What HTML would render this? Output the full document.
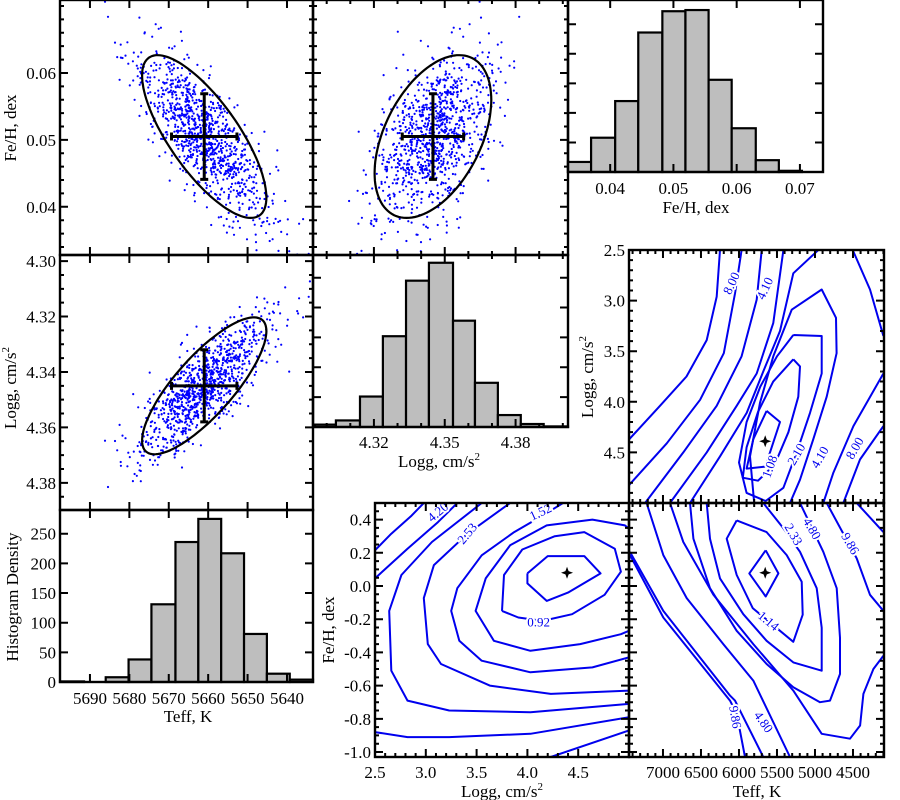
<!DOCTYPE html>
<html><head><meta charset="utf-8"><title>Corner plot</title>
<style>
body{margin:0;background:#fff;}
svg{display:block;font-family:"Liberation Serif","DejaVu Serif",serif;}
text{font-family:"Liberation Serif","DejaVu Serif",serif;}
</style></head>
<body>
<svg id="fig" width="900" height="800" viewBox="0 0 900 800"></svg>
<script>
// ---------- data ----------
const teffBinEdges=[5697.6,5691.5,5686.0,5680.2,5674.4,5668.3,5662.5,5656.7,5650.9,5645.1,5639.3,5633.4];
const teffCounts=[1,0,8,38,131,236,275,217,81,14,4];
const loggBinEdges=[4.2950,4.3039,4.3141,4.3238,4.3336,4.3433,4.3535,4.3628,4.3725,4.3822,4.3919,4.4022];
const loggCounts=[4,11,51,152,245,275,178,74,20,5,1];
const fehBinEdges=[0.03333,0.03698,0.04079,0.04444,0.04825,0.05190,0.05556,0.05921,0.06302,0.06667,0.07032,0.07365];
const fehCounts=[17,58,120,236,272,274,156,74,20,2,0];

const teffTicks=[5690,5680,5670,5660,5650,5640];
const fehScatterTicks=[0.04,0.05,0.06];
const fehHistTicks=[0.04,0.05,0.06,0.07];
const loggScatterTicks=[4.30,4.32,4.34,4.36,4.38];
const loggHistTicks=[4.32,4.35,4.38];
const countTicks=[0,50,100,150,200,250];
const gridLoggTicks=[2.5,3.0,3.5,4.0,4.5];
const gridTeffTicks=[7000,6500,6000,5500,5000,4500];
const gridFehTicks=[0.4,0.2,0.0,-0.2,-0.4,-0.6,-0.8,-1.0];

const meanTeff=5661, meanFeh=0.0505, meanLogg=4.345;
const sdTeff=8.3, sdFeh=0.0064, sdLogg=0.013;
const rhoTeffFeh=0.75, rhoTeffLogg=0.8, rhoFehLogg=0.45;
const nSamples=1000;

const bestTeff=5655, bestLogg=4.39, bestFeh=0.08;

const teffLoggContours=[
 [[7443,4.37],[7039,4.04],[6690,3.75],[6425,3.39],[6293,2.96],[6250,2.5]],
 [[7443,4.82],[6950,4.41],[6512,3.98],[6200,3.52],[6052,2.93],[5965,2.5]],
 [[7235,5.0],[6732,4.50],[6293,4.04],[5965,3.55],[5767,2.99],[5701,2.5]],
 [[6907,5.0],[6425,4.5],[6030,4.04],[5767,3.72],[5548,3.22],[5416,2.5]],
 [[6644,5.0],[6250,4.54],[5899,4.11],[5680,3.70],[5460,3.30],[5285,2.73],[4956,2.5]],
 [[5800,5.0],[5855,4.54],[5723,4.01],[5548,3.55],[5307,3.09],[4912,2.89],[4723,3.17],[4715,3.52],[4846,3.95],[5022,4.37],[5197,4.77],[5329,5.0]],
 [[5285,3.34],[4912,3.35],[4912,3.72],[5065,4.11],[5241,4.50],[5416,4.85],[5650,4.98],[5900,4.90],[6000,4.60],[5900,4.20],[5720,3.85],[5500,3.55],[5285,3.34]],
 [[5285,3.58],[5197,3.65],[5219,3.95],[5350,4.30],[5530,4.62],[5750,4.78],[5950,4.75],[5900,4.45],[5750,4.10],[5550,3.80],[5285,3.58]],
 [[5636,4.09],[5460,4.20],[5592,4.50],[5657,4.64],[5900,4.66],[5811,4.37],[5636,4.09]],
 [[4504,2.5],[4276,2.89],[4100,3.35]],
 [[4100,3.72],[4495,4.24],[4758,4.70],[4890,5.0]],
 [[4100,4.24],[4408,4.57],[4627,5.0]]
];
const teffLoggLabels=[["8.00",6096,2.83,-65],["4.10",5657,2.88,-65],["1.08",5592,4.64,-70],["2.10",5241,4.52,-60],["4.10",4934,4.55,-60],["8.00",4474,4.46,-60]];

const loggFehContours=[
 [[4.0,0.076],[4.20,0.18],[4.56,0.18],[4.72,0.076],[4.40,-0.04],[4.19,-0.09],[4.0,0.016],[4.0,0.076]],
 [[3.75,-0.15],[3.77,0.066],[3.95,0.22],[4.27,0.30],[4.56,0.325],[4.86,0.225],[4.92,0.086],[4.76,-0.053],[4.44,-0.17],[4.15,-0.21],[3.91,-0.19],[3.75,-0.15]],
 [[5.0,0.345],[4.96,0.365],[4.64,0.40],[4.19,0.365],[3.83,0.245],[3.59,0.046],[3.49,-0.15],[3.67,-0.33],[4.03,-0.39],[4.52,-0.35],[4.92,-0.29],[5.0,-0.27]],
 [[4.35,0.5],[4.15,0.424],[3.87,0.325],[3.55,0.185],[3.31,-0.013],[3.25,-0.15],[3.33,-0.33],[3.55,-0.45],[4.03,-0.52],[4.64,-0.49],[5.0,-0.43]],
 [[3.83,0.5],[3.41,0.315],[3.08,0.126],[2.98,-0.073],[3.02,-0.35],[3.15,-0.47],[3.63,-0.60],[4.23,-0.65],[5.0,-0.63]],
 [[3.55,0.5],[3.06,0.265],[2.76,0.066],[2.64,-0.15],[2.66,-0.51],[2.82,-0.69],[3.23,-0.75],[4.03,-0.76],[5.0,-0.71]],
 [[2.5,0.046],[2.82,0.225],[3.12,0.385],[3.31,0.5]],
 [[2.5,0.215],[2.66,0.315],[2.86,0.424],[2.98,0.5]],
 [[2.5,-0.88],[2.82,-0.91],[3.23,-0.91],[4.03,-0.89],[5.0,-0.79]],
 [[4.23,-1.03],[5.0,-0.87]]
];
const loggFehLabels=[["4.20",3.12,0.444,-40],["2.53",3.41,0.315,-50],["1.52",4.13,0.444,-25],["0.92",4.11,-0.22,0]];

const teffFehContours=[
 [[5649,0.215],[5482,0.076],[5649,-0.063],[5864,0.076],[5649,0.215]],
 [[6030,0.395],[5636,0.325],[5372,0.186],[5175,0.026],[5162,-0.173],[5285,-0.336],[5460,-0.27],[5819,-0.133],[6030,0.066],[6162,0.285],[6030,0.395]],
 [[5680,0.5],[5420,0.35],[5197,0.206],[4978,-0.013],[4912,-0.252],[4912,-0.51],[5285,-0.46],[5636,-0.33],[5943,-0.17],[6250,0.046],[6381,0.285],[6425,0.5]],
 [[5197,0.5],[4890,0.206],[4714,-0.013],[4671,-0.312],[4671,-0.53],[4802,-0.69],[4934,-0.70],[5285,-0.61],[5636,-0.47],[6030,-0.27],[6381,-0.013],[6600,0.285],[6644,0.5]],
 [[4846,0.5],[4451,0.166],[4276,-0.053],[4100,-0.15]],
 [[4451,0.5],[4100,0.325]],
 [[6908,0.5],[6732,0.265],[6337,-0.053],[5811,-0.35],[5285,-0.63],[4912,-0.89],[4539,-0.92],[4407,-0.84],[4363,-0.65],[4232,-0.50],[4100,-0.42]],
 [[7215,0.5],[6996,0.186],[6688,-0.073],[6206,-0.35],[5811,-0.57],[5329,-1.03]],
 [[7434,0.205],[6996,-0.15],[6118,-0.66],[6052,-0.69],[5680,-1.03]],
 [[7434,0.186],[6996,-0.19],[6118,-0.69],[6030,-0.77],[5921,-1.03]]
];
const teffFehLabels=[["2.33",5285,0.31,60],["4.80",5043,0.345,60],["9.86",4539,0.255,60],["1.14",5614,-0.212,40],["9.86",6052,-0.79,80],["4.80",5680,-0.82,55]];

// ---------- helpers ----------
const NS="http://www.w3.org/2000/svg";
const FONT='"Liberation Serif", "DejaVu Serif", serif';
const FS=17;
const svg=document.getElementById('fig');
function mk(tag,attrs,parent){const e=document.createElementNS(NS,tag);for(const k in attrs)e.setAttribute(k,attrs[k]);(parent||svg).appendChild(e);return e;}
function lin(d0,d1,r0,r1){return v=>r0+(v-d0)/(d1-d0)*(r1-r0);}
function panel(x0,y0,x1,y1,xd,yd){return {x0,y0,x1,y1,xd,yd,sx:lin(xd[0],xd[1],x0,x1),sy:lin(yd[0],yd[1],y0,y1)};}
function range(a,b,step){const lo=Math.min(a,b),hi=Math.max(a,b);const out=[];let v=Math.ceil(lo/step-1e-9)*step;for(;v<=hi+1e-9;v+=step)out.push(v);return out;}

const P={
 A:panel(60,0,313,255,[5697.6,5633.4],[0.0709,0.0328]),
 B:panel(313,0,568,255,[4.2942,4.4022],[0.0709,0.0328]),
 C:panel(568,0,823,172,[0.03333,0.07365],[291,0]),
 D:panel(60,255,313,510,[5697.6,5633.4],[4.2978,4.3898]),
 E:panel(313,255,568,427,[4.2942,4.4022],[288,0]),
 F:panel(60,510,313,682,[5697.6,5633.4],[290,0]),
 G:panel(629,250,884,503,[7447,4092],[2.5,5.0]),
 H:panel(375,503,629,757,[2.5,5.0],[0.5,-1.03]),
 I:panel(629,503,884,757,[7447,4092],[0.5,-1.03])
};

function clipFor(p,id){
 const cp=mk('clipPath',{id:id});
 
 
 const r=mk('rect',{x:p.x0,y:p.y0,width:p.x1-p.x0,height:p.y1-p.y0},cp);
 
 
}

function frame(p,name,xMaj,xMinStep,yMaj,yMinStep){
 const g=mk('g',{});
 
 
 let d='';
 const inX=v=>{const X=p.sx(v);return X>=p.x0-0.5&&X<=p.x1+0.5;};
 const inY=v=>{const Y=p.sy(v);return Y>=p.y0-0.5&&Y<=p.y1+0.5;};
 xMaj.filter(inX).forEach(v=>{const X=p.sx(v);d+=`M${X},${p.y1}v-8M${X},${p.y0}v8`;});
 yMaj.filter(inY).forEach(v=>{const Y=p.sy(v);d+=`M${p.x0},${Y}h8M${p.x1},${Y}h-8`;});
 if(xMinStep)range(p.xd[0],p.xd[1],xMinStep).filter(inX).forEach(v=>{const X=p.sx(v);d+=`M${X},${p.y1}v-4M${X},${p.y0}v4`;});
 if(yMinStep)range(p.yd[0],p.yd[1],yMinStep).filter(inY).forEach(v=>{const Y=p.sy(v);d+=`M${p.x0},${Y}h4M${p.x1},${Y}h-4`;});
 const t=mk('path',{d:d,stroke:'#000','stroke-width':2,fill:'none'},g);
 
 
 const r=mk('rect',{x:p.x0,y:p.y0,width:p.x1-p.x0,height:p.y1-p.y0,fill:'none',stroke:'#000','stroke-width':2.4},g);
 
 
}
function xLabels(p,name,ticks,fmt,baseY){
 ticks.forEach(v=>{
  const t=mk('text',{x:p.sx(v),y:baseY,'font-size':FS,'font-family':FONT,'text-anchor':'middle',fill:'#000'});
  t.textContent=fmt(v);
  
  
 });
}
function yLabels(p,name,ticks,fmt){
 ticks.forEach(v=>{
  const t=mk('text',{x:p.x0-4,y:p.sy(v)+6,'font-size':FS,'font-family':FONT,'text-anchor':'end',fill:'#000'});
  t.textContent=fmt(v);
  
  
 });
}
function title(txt,x,y,rot,name,sup){
 const t=mk('text',{x:x,y:y,'font-size':FS,'font-family':FONT,'text-anchor':'middle',fill:'#000',transform:rot?`rotate(-90 ${x} ${y})`:''});
 
 
 t.appendChild(document.createTextNode(txt));
 if(sup){const s=mk('tspan',{dy:-7,'font-size':11},t);s.textContent=sup;
  
  }
}
function hist(p,name,edges,counts){
 const g=mk('g',{});
 
 
 counts.forEach((c,i)=>{
  const x1=p.sx(edges[i]),x2=p.sx(edges[i+1]);
  const y=p.sy(c),y0=p.sy(0);
  const r=mk('rect',{x:Math.min(x1,x2),y:y,width:Math.abs(x2-x1),height:Math.max(0,y0-y),fill:'#bebebe',stroke:'#000','stroke-width':2.2},g);
  
  
 });
}
function star(p,x,y,name){
 const X=p.sx(x),Y=p.sy(y);
 const s=mk('path',{d:`M${X},${Y-6}L${X+1.6},${Y-1.6}L${X+6},${Y}L${X+1.6},${Y+1.6}L${X},${Y+6}L${X-1.6},${Y+1.6}L${X-6},${Y}L${X-1.6},${Y-1.6}Z`,fill:'#000'});
 
 
}
function contours(p,name,lines,labels){
 clipFor(p,name+'-clip');
 const g=mk('g',{'clip-path':`url(#${name}-clip)`});
 
 
 lines.forEach(pts=>{
  const d=pts.map((q,i)=>(i?'L':'M')+p.sx(q[0]).toFixed(1)+','+p.sy(q[1]).toFixed(1)).join('');
  const l=mk('path',{d:d,fill:'none',stroke:'#0000ee','stroke-width':2,'stroke-linejoin':'round'},g);
  
  
 });
 labels.forEach(lb=>{
  const X=p.sx(lb[1]),Y=p.sy(lb[2]);
  const t=mk('text',{x:X,y:Y+4,'font-size':13,'font-family':FONT,'text-anchor':'middle',fill:'#0000ee',stroke:'#fff','stroke-width':4,'paint-order':'stroke',transform:`rotate(${lb[3]} ${X} ${Y})`},g);
  t.textContent=lb[0];
  
  
 });
}

// ---------- samples (seeded) ----------
let seed=12345;
function rnd(){seed|=0;seed=seed+0x6D2B79F5|0;let t=Math.imul(seed^seed>>>15,1|seed);t=t+Math.imul(t^t>>>7,61|t)^t;return((t^t>>>14)>>>0)/4294967296;}
function gauss(){let u=0,v=0;while(u===0)u=rnd();v=rnd();return Math.sqrt(-2*Math.log(u))*Math.cos(2*Math.PI*v);}
const l21=rhoTeffFeh,l22=Math.sqrt(1-l21*l21);
const l31=rhoTeffLogg,l32=(rhoFehLogg-l31*l21)/l22,l33=Math.sqrt(1-l31*l31-l32*l32);
const sT=[],sF=[],sL=[];
for(let i=0;i<nSamples;i++){const z1=gauss(),z2=gauss(),z3=gauss();
 sT.push(meanTeff+sdTeff*z1);sF.push(meanFeh+sdFeh*(l21*z1+l22*z2));sL.push(meanLogg+sdLogg*(l31*z1+l32*z2+l33*z3));}

function scatter(p,name,xs,ys,mx,my,sx,sy,rho){
 clipFor(p,name+'-clip');
 const g=mk('g',{'clip-path':`url(#${name}-clip)`});
 
 
 let d='';
 for(let i=0;i<xs.length;i++){const X=p.sx(xs[i]),Y=p.sy(ys[i]);d+=`M${X.toFixed(1)},${Y.toFixed(1)}h0.01`;}
 const pts=mk('path',{d:d,stroke:'#0000ff','stroke-width':2.2,'stroke-linecap':'round',fill:'none'},g);
 
 
 const k=1.9;let e='';
 for(let j=0;j<=120;j++){const t=j/120*2*Math.PI;
  const vx=mx+k*sx*Math.cos(t),vy=my+k*sy*(rho*Math.cos(t)+Math.sqrt(1-rho*rho)*Math.sin(t));
  e+=(j?'L':'M')+p.sx(vx).toFixed(1)+','+p.sy(vy).toFixed(1);}
 const el=mk('path',{d:e,fill:'none',stroke:'#000','stroke-width':2.2},g);
 
 
 const X=p.sx(mx),Y=p.sy(my),xa=p.sx(mx-sx),xb=p.sx(mx+sx),ya=p.sy(my-sy),yb=p.sy(my+sy);
 const cr=mk('path',{d:`M${xa},${Y}H${xb}M${X},${ya}V${yb}M${xa},${Y-4}v8M${xb},${Y-4}v8M${X-4},${ya}h8M${X-4},${yb}h8`,stroke:'#000','stroke-width':3,fill:'none'},g);
 
 
}

// ---------- draw ----------
const f2=v=>v.toFixed(2), f1=v=>v.toFixed(1), f0=v=>v.toFixed(0);

scatter(P.A,'teff-feh-scatter',sT,sF,meanTeff,meanFeh,sdTeff,sdFeh,rhoTeffFeh);
frame(P.A,'teff-feh-scatter',teffTicks,0,fehScatterTicks,0.002);
yLabels(P.A,'teff-feh-scatter',fehScatterTicks,f2);
title('Fe/H, dex',16,128,true,'feh-y-axis-title');

scatter(P.B,'logg-feh-scatter',sL,sF,meanLogg,meanFeh,sdLogg,sdFeh,rhoFehLogg);
frame(P.B,'logg-feh-scatter',loggHistTicks,0.01,fehScatterTicks,0.002);

hist(P.C,'feh-histogram',fehBinEdges,fehCounts);
frame(P.C,'feh-histogram',fehHistTicks,0,countTicks,0);
xLabels(P.C,'feh-histogram',fehHistTicks,f2,194);
title('Fe/H, dex',696,213,false,'feh-hist-x-axis-title');

scatter(P.D,'teff-logg-scatter',sT,sL,meanTeff,meanLogg,sdTeff,sdLogg,rhoTeffLogg);
frame(P.D,'teff-logg-scatter',teffTicks,0,loggScatterTicks,0.005);
yLabels(P.D,'teff-logg-scatter',loggScatterTicks,f2);
title('Logg, cm/s',16,388,true,'logg-y-axis-title','2');

hist(P.E,'logg-histogram',loggBinEdges,loggCounts);
frame(P.E,'logg-histogram',loggHistTicks,0.01,countTicks,0);
xLabels(P.E,'logg-histogram',loggHistTicks,f2,448);
title('Logg, cm/s',439,467,false,'logg-hist-x-axis-title','2');

hist(P.F,'teff-histogram',teffBinEdges,teffCounts);
frame(P.F,'teff-histogram',teffTicks,0,countTicks,0);
yLabels(P.F,'teff-histogram',countTicks,f0);
xLabels(P.F,'teff-histogram',teffTicks,f0,704);
title('Histogram Density',18,597,true,'histogram-density-y-axis-title');
title('Teff, K',188,722,false,'teff-hist-x-axis-title');

contours(P.G,'teff-logg-grid',teffLoggContours,teffLoggLabels);
star(P.G,bestTeff,bestLogg,'teff-logg-best-fit-marker');
frame(P.G,'teff-logg-grid',gridTeffTicks,100,gridLoggTicks,0.1);
yLabels(P.G,'teff-logg-grid',gridLoggTicks,f1);
title('Logg, cm/s',593,377,true,'grid-logg-y-axis-title','2');

contours(P.H,'logg-feh-grid',loggFehContours,loggFehLabels);
star(P.H,bestLogg,bestFeh,'logg-feh-best-fit-marker');
frame(P.H,'logg-feh-grid',gridLoggTicks,0.1,gridFehTicks,0.05);
yLabels(P.H,'logg-feh-grid',gridFehTicks,f1);
xLabels(P.H,'logg-feh-grid',gridLoggTicks,f1,778);
title('Fe/H, dex',334,630,true,'grid-feh-y-axis-title');
title('Logg, cm/s',502,797,false,'grid-logg-x-axis-title','2');

contours(P.I,'teff-feh-grid',teffFehContours,teffFehLabels);
star(P.I,bestTeff,bestFeh,'teff-feh-best-fit-marker');
frame(P.I,'teff-feh-grid',gridTeffTicks,100,gridFehTicks,0.05);
xLabels(P.I,'teff-feh-grid',gridTeffTicks,f0,778);
title('Teff, K',757,797,false,'grid-teff-x-axis-title');
</script>
</body></html>
